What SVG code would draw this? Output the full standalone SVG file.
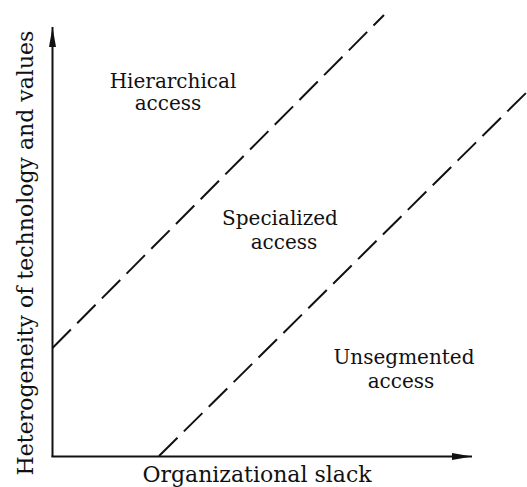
<svg xmlns="http://www.w3.org/2000/svg" width="527" height="487" viewBox="0 0 527 487">
  <style>
    .axis { stroke: #111; stroke-width: 2; fill: none; }
    .boundary { stroke: #111; stroke-width: 2; fill: none; stroke-dasharray: 26 9; }
    .region { font-family: "DejaVu Serif", "Liberation Serif", serif; font-size: 20px; fill: #111; text-anchor: middle; }
    .axis-label { font-family: "DejaVu Serif", "Liberation Serif", serif; font-size: 22px; fill: #111; text-anchor: middle; }
  </style>
  <defs>
    <marker id="arrow" viewBox="0 0 20 8" refX="20" refY="4" markerWidth="20" markerHeight="8" markerUnits="userSpaceOnUse" orient="auto">
      <path d="M0,0.5 L20,4 L0,7.5 Z" fill="#111"/>
    </marker>
  </defs>
  <rect width="527" height="487" fill="#fff"/>

  <g id="connectors">
    <!-- axes -->
    <line class="axis" x1="52.5" y1="457" x2="52.5" y2="27" marker-end="url(#arrow)"/>
    <line class="axis" x1="51.5" y1="456.5" x2="472" y2="456.5" marker-end="url(#arrow)"/>
    <!-- regime boundaries -->
    <line class="boundary" x1="52.5" y1="348" x2="384" y2="15"/>
    <line class="boundary" x1="159" y1="456" x2="530" y2="89"/>
  </g>

  <g id="axis-y">
    <text class="axis-label" transform="translate(33 253) rotate(-90)">Heterogeneity of technology and values</text>
  </g>
  <g id="axis-x">
    <text class="axis-label" x="257" y="482">Organizational slack</text>
  </g>

  <g id="hierarchical">
    <text class="region" x="173" y="88">Hierarchical</text>
    <text class="region" x="168" y="110">access</text>
  </g>
  <g id="specialized">
    <text class="region" x="280" y="225">Specialized</text>
    <text class="region" x="284" y="249">access</text>
  </g>
  <g id="unsegmented">
    <text class="region" x="404" y="364">Unsegmented</text>
    <text class="region" x="401" y="388">access</text>
  </g>
</svg>
